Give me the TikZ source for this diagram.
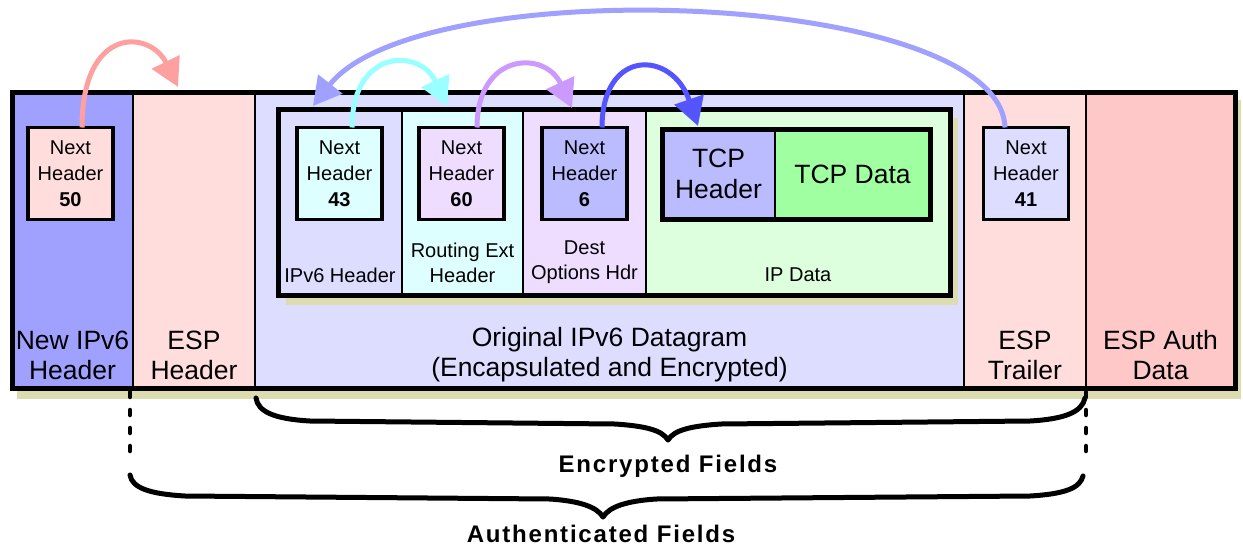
\documentclass[tikz,border=0pt]{standalone}
\usepackage{fontspec}
\setmainfont{Liberation Sans}
\newfontfamily\fieldfont[LetterSpace=7.5]{Liberation Sans}
\usetikzlibrary{arrows.meta,calc}
\definecolor{cNew}{HTML}{A0A0FF}
\definecolor{cPink}{HTML}{FFDDDD}
\definecolor{cLav}{HTML}{DDDDFF}
\definecolor{cAuth}{HTML}{FFC8C8}
\definecolor{cCyan}{HTML}{DDFFFF}
\definecolor{cLilac}{HTML}{EEDDFF}
\definecolor{cGreen}{HTML}{DDFFDD}
\definecolor{cMid}{HTML}{BBBBFF}
\definecolor{cData}{HTML}{A0FFA0}
\definecolor{cShadow}{HTML}{DDDBB0}
\definecolor{aPink}{HTML}{FFA0A0}
\definecolor{aCyan}{HTML}{99FFFF}
\definecolor{aLilac}{HTML}{CC99FF}
\definecolor{aBlue}{HTML}{5555FF}
\definecolor{aLav}{HTML}{A0A0FF}
\begin{document}
\begin{tikzpicture}[x=1pt,y=-1pt,
  col/.style={draw=black, line width=1.2pt, inner sep=0pt, outer sep=0pt, rectangle},
  frame/.style={draw=black, line width=5pt, inner sep=0pt, outer sep=0pt, rectangle},
  nhbox/.style={draw=black, line width=3.5pt, minimum width=85pt, minimum height=92pt, inner sep=0pt, outer sep=0pt, align=center, font=\fontsize{20}{26}\selectfont},
  biglabel/.style={align=center, font=\fontsize{26.5}{30}\selectfont, inner sep=0pt},
  smalllabel/.style={align=center, font=\fontsize{20}{25}\selectfont, inner sep=0pt},
  tcplabel/.style={align=center, font=\fontsize{26.5}{31}\selectfont, inner sep=0pt},
  fieldlabel/.style={font=\fieldfont\fontsize{24}{30}\selectfont\bfseries, inner sep=0pt},
  hop/.style={line width=5pt, -{Triangle[length=28pt,width=30pt]}},
  bracepath/.style={line width=5pt, line cap=round, line join=round},
  dotline/.style={line width=4.5pt, line cap=round, dash pattern=on 5pt off 13pt}
]
\useasboundingbox (0,0) rectangle (1243,552);

% outer shadow
\fill[cShadow] (17,100) rectangle (1241,399);
% outer columns
\node[col, fill=cNew, minimum width=121pt, minimum height=296pt] (cNewIP) at (72.5,240) {};
\node[col, fill=cPink, minimum width=122pt, minimum height=296pt] (cESPH) at (194,240) {};
\node[col, fill=cLav, minimum width=709pt, minimum height=296pt] (cOrig) at (609.5,240) {};
\node[col, fill=cPink, minimum width=122pt, minimum height=296pt] (cESPT) at (1025,240) {};
\node[col, fill=cAuth, minimum width=149pt, minimum height=296pt] (cAuthD) at (1160.5,240) {};
\node[frame, minimum width=1223pt, minimum height=296pt] (outer) at (623.5,240) {};

% inner datagram
\fill[cShadow] (286,118) rectangle (958,305);
\node[col, fill=cLav, minimum width=124pt, minimum height=186pt] (iV6) at (340,202.5) {};
\node[col, fill=cCyan, minimum width=121pt, minimum height=186pt] (iRt) at (462.5,202.5) {};
\node[col, fill=cLilac, minimum width=123pt, minimum height=186pt] (iDst) at (584.5,202.5) {};
\node[col, fill=cGreen, minimum width=304pt, minimum height=186pt] (iData) at (798,202.5) {};
\node[frame, minimum width=672pt, minimum height=186pt] (inner) at (614,202.5) {};

% TCP segment
\node[col, fill=cMid, minimum width=113pt, minimum height=90pt, tcplabel] (tcpH) at (718.5,174) {TCP\\Header};
\node[col, fill=cData, minimum width=155pt, minimum height=90pt, tcplabel] (tcpD) at (852.5,174) {TCP Data};
\node[frame, minimum width=268pt, minimum height=90pt] (tcp) at (796,174) {};

% next header boxes
\node[nhbox, fill=cPink] (nh50) at (70.5,173.5) {Next\\Header\\\textbf{50}};
\node[nhbox, fill=cCyan] (nh43) at (339.5,173.5) {Next\\Header\\\textbf{43}};
\node[nhbox, fill=cLilac] (nh60) at (461.5,173.5) {Next\\Header\\\textbf{60}};
\node[nhbox, fill=cMid] (nh6) at (584.5,173.5) {Next\\Header\\\textbf{6}};
\node[nhbox, fill=cLav] (nh41) at (1026,173.5) {Next\\Header\\\textbf{41}};

% inner labels
\node[smalllabel] (lV6) at (340,275) {IPv6 Header};
\node[smalllabel] (lRt) at (462.5,262.5) {Routing Ext\\Header};
\node[smalllabel] (lDst) at (584.5,262.5) {Dest\\Options Hdr};
\node[smalllabel] (lData) at (798,275) {IP Data};

% outer labels
\node[biglabel] (lNew) at (72.5,355) {New IPv6\\Header};
\node[biglabel] (lESPH) at (194,355) {ESP\\Header};
\node[biglabel] (lOrig) at (609.5,355) {Original IPv6 Datagram\\(Encapsulated and Encrypted)};
\node[biglabel] (lESPT) at (1025,355) {ESP\\Trailer};
\node[biglabel] (lAuth) at (1160.5,355) {ESP Auth\\Data};

% arrow targets
\coordinate (espin) at (178,87);
\coordinate (rtin) at (447,106);
\coordinate (dsin) at (572,108);
\coordinate (tcpin) at (698,126);
\coordinate (v6in) at (313,106);

% next-header arrows
\draw[hop, aLav] ($(nh41.north)+(-21,0)$) .. controls (1000,-10) and (420,-30) .. (v6in);
\draw[hop, aPink] ($(nh50.north)+(11.5,0)$) .. controls (82,25) and (150,30) .. (espin);
\draw[hop, aCyan] ($(nh43.north)+(12.5,0)$) .. controls (352,48) and (420,48) .. (rtin);
\draw[hop, aLilac] ($(nh60.north)+(15.5,0)$) .. controls (477,52) and (545,50) .. (dsin);
\draw[hop, aBlue] ($(nh6.north)+(17.5,0)$) .. controls (602,48) and (672,50) .. (tcpin);

% dotted extensions
\draw[dotline] (130,392) -- (130,453);
\draw[dotline] (1086,392) -- (1086,453);

% braces
\draw[bracepath] (256,398) .. controls (258,412) and (275,419) .. (310,421) -- (615,424) .. controls (645,426) and (662,430) .. (668,440) .. controls (674,430) and (691,426) .. (721,424) -- (1030,421) .. controls (1065,419) and (1082,412) .. (1085,398);
\draw[bracepath] (130,475) .. controls (132,488) and (150,494) .. (185,496) -- (550,499) .. controls (580,501) and (597,507) .. (603,517) .. controls (609,507) and (626,501) .. (656,499) -- (1030,496) .. controls (1065,494) and (1080,488) .. (1083,476);

\node[fieldlabel] (lEnc) at (668,466) {Encrypted Fields};
\node[fieldlabel] (lAuthF) at (601,534) {Authenticated Fields};
\end{tikzpicture}
\end{document}
